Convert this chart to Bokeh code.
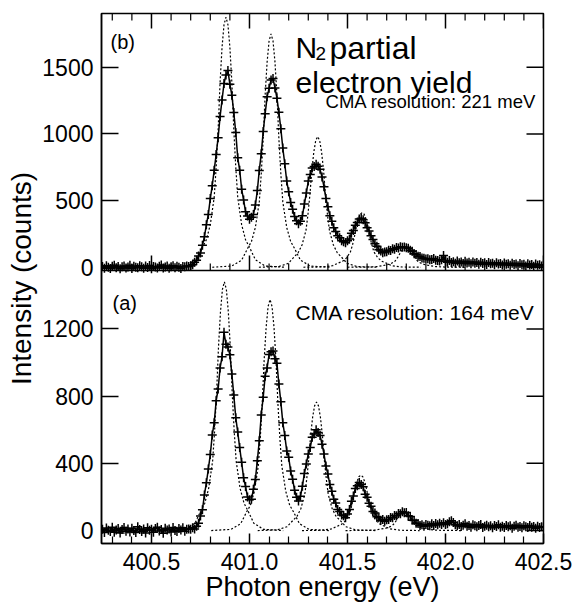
import numpy as np
from bokeh.plotting import figure
from bokeh.models import LinearAxis, FixedTicker, NumeralTickFormatter, Range1d, Label, Span
from bokeh.embed import file_html
from bokeh.resources import INLINE

FONT = "Liberation Sans"

# ---------------- shared x axis ----------------
x_limits = (400.245, 402.5)
x_major_ticks = [400.5, 401.0, 401.5, 402.0, 402.5]
x_minor_ticks = [400.3, 400.4, 400.6, 400.7, 400.8, 400.9, 401.1, 401.2, 401.3,
                 401.4, 401.6, 401.7, 401.8, 401.9, 402.1, 402.2, 402.3, 402.4]

# ---------------- panel (b): CMA resolution 221 meV (upper) ----------------
b_range = (-2072, 1903)      # counts scale spanning the whole frame
b_floor = -25                # lower edge of panel (b)
b_y_ticks = [0, 500, 1000, 1500]

b_base_start = 400.25
b_base = [5, -8, 12, 0, -10, 8, 15, -3, 6, -12,
          4, 10, -6, 2, 14, -9, 7, 0, -4, 11,
          3, -7, 9, -2, 13, -11, 5, 1, -5, 8,
          16, -6, 2, 10, -8, 4, 12, -3, 7, 0,
          -9, 6, 3, 9, 5]
b_peak_start = 400.70
b_peak = [12, 18, 38, 52, 84, 106, 165, 228, 318, 396,
          515, 612, 728, 846, 972, 1130, 1255, 1378, 1442, 1475,
          1372, 1290, 1160, 1010, 822, 728, 585, 505, 416, 384,
          360, 374, 396, 466, 575, 726, 852, 1018, 1152, 1278,
          1342, 1404, 1415, 1345, 1268, 1162, 1038, 894, 776, 646,
          566, 486, 434, 380, 348, 326, 344, 386, 474, 556,
          646, 696, 744, 756, 772, 758, 734, 676, 604, 516,
          454, 386, 344, 296, 268, 236, 222, 198, 192, 184,
          198, 212, 254, 276, 314, 336, 362, 368, 356, 334,
          296, 272, 236, 208, 176, 158, 132, 122, 108, 114,
          116, 128, 126, 138, 134, 148, 144, 154, 150, 152,
          146, 142, 128, 120, 102, 96, 82, 80, 70, 68,
          62, 64, 56, 58, 66, 52, 50, 46, 56, 88]
b_tail_start = 402.00
b_tail = [44, 38, 50, 36, 42, 30, 46, 34, 40, 28,
          44, 32, 38, 26, 40, 30, 36, 22, 38, 28,
          34, 20, 36, 26, 30, 18, 34, 24, 28, 16,
          32, 22, 26, 14, 30, 20, 24, 12, 28, 18,
          22, 10, 26, 16, 20, 8, 24, 14, 18, 10,
          16]

# component (dotted) curves: offsets from each line centre (eV)
comp_offsets = [-0.30, -0.20, -0.15, -0.12, -0.10, -0.08, -0.06, -0.05, -0.04, -0.03,
                -0.02, -0.01, 0.0, 0.01, 0.02, 0.03, 0.04, 0.05, 0.06, 0.08,
                0.10, 0.12, 0.15, 0.20, 0.30]
b_comp_centers = [400.880, 401.110, 401.348, 401.575, 401.800]
b_comp1 = [0, 9, 56, 150, 206, 319, 525, 750, 1031, 1388, 1650, 1819, 1875,
           1819, 1650, 1388, 1031, 750, 525, 319, 206, 150, 56, 9, 0]
b_comp2 = [0, 9, 53, 140, 193, 298, 490, 700, 963, 1295, 1540, 1698, 1750,
           1698, 1540, 1295, 963, 700, 490, 298, 193, 140, 53, 9, 0]
b_comp3 = [0, 5, 29, 78, 108, 167, 274, 392, 539, 725, 862, 951, 980,
           951, 862, 725, 539, 392, 274, 167, 108, 78, 29, 5, 0]
b_comp4 = [0, 2, 12, 33, 45, 70, 115, 164, 226, 303, 361, 398, 410,
           398, 361, 303, 226, 164, 115, 70, 45, 33, 12, 2, 0]
b_comp5 = [0, 1, 5, 12, 17, 26, 42, 60, 83, 111, 132, 146, 150,
           146, 132, 111, 83, 60, 42, 26, 17, 12, 5, 1, 0]

# ---------------- panel (a): CMA resolution 164 meV (lower) ----------------
a_range = (-77, 3077)        # counts scale spanning the whole frame
a_y_ticks = [0, 400, 800, 1200]

a_base_start = 400.25
a_base = [8, -12, 15, 2, -6, 20, -10, 4, 12, -15,
          6, 18, -4, 10, -8, 14, 0, -12, 22, 6,
          -6, 10, -14, 16, 2, 8, -10, 12, 20, -2,
          6, -16, 14, 4, 10, -8, 18, 0, -6, 12,
          4, 16, -4, 8, 10]
a_peak_start = 400.70
a_peak = [8, 16, 10, 26, 44, 86, 124, 212, 284, 366,
          452, 568, 642, 772, 842, 968, 1034, 1180, 1108, 1092,
          1046, 932, 806, 672, 586, 494, 406, 314, 262, 200,
          184, 186, 246, 304, 416, 534, 688, 794, 918, 968,
          1048, 1064, 1068, 1022, 996, 872, 766, 642, 566, 474,
          436, 354, 306, 240, 198, 176, 204, 264, 340, 396,
          456, 494, 556, 574, 600, 584, 566, 514, 456, 384,
          336, 274, 234, 186, 164, 126, 114, 92, 88, 76,
          98, 126, 174, 206, 250, 266, 286, 274, 260, 216,
          198, 162, 144, 114, 104, 82, 76, 62, 66, 56,
          64, 66, 78, 76, 90, 88, 102, 100, 112, 106,
          108, 88, 84, 62, 60, 44, 42, 30, 34, 26,
          36, 32, 28, 40, 30, 42, 34, 44, 36, 46]
a_tail_start = 402.00
a_tail = [36, 40, 52, 58, 48, 34, 28, 36, 24, 32,
          40, 26, 30, 20, 34, 28, 22, 30, 36, 18,
          26, 32, 22, 28, 16, 30, 24, 34, 20, 26,
          18, 30, 22, 28, 14, 26, 32, 20, 24, 16,
          28, 22, 18, 30, 20, 24, 14, 26, 18, 22,
          20]

a_comp_centers = [400.872, 401.105, 401.342, 401.568, 401.790]
a_comp1 = [0, 7, 44, 118, 163, 252, 414, 592, 814, 1095, 1302, 1436, 1480,
           1436, 1302, 1095, 814, 592, 414, 252, 163, 118, 44, 7, 0]
a_comp2 = [0, 7, 41, 110, 151, 234, 385, 550, 756, 1018, 1210, 1334, 1375,
           1334, 1210, 1018, 756, 550, 385, 234, 151, 110, 41, 7, 0]
a_comp3 = [0, 4, 23, 61, 84, 130, 214, 306, 421, 566, 673, 742, 765,
           742, 673, 566, 421, 306, 214, 130, 84, 61, 23, 4, 0]
a_comp4 = [0, 2, 10, 26, 36, 56, 92, 132, 182, 244, 290, 320, 330,
           320, 290, 244, 182, 132, 92, 56, 36, 26, 10, 2, 0]
a_comp5 = [0, 1, 3, 9, 12, 19, 31, 44, 61, 81, 97, 107, 110,
           107, 97, 81, 61, 44, 31, 19, 12, 9, 3, 1, 0]


def grid_of(start, vals):
    return np.round(start + 0.01 * np.arange(len(vals)), 3)


def to_a_units(t):
    """position of a panel-(b) value expressed on the panel-(a) scale (same frame)"""
    return round(a_range[0] + (t - b_range[0]) * (a_range[1] - a_range[0]) / (b_range[1] - b_range[0]), 3)


p = figure(width=577, height=607, x_range=Range1d(*x_limits), y_range=Range1d(*a_range),
           toolbar_location=None, output_backend="svg",
           min_border_left=101, min_border_right=34, min_border_top=13, min_border_bottom=64,
           x_axis_location=None, y_axis_location=None)
p.extra_y_ranges = {"top": Range1d(*b_range)}
p.grid.visible = False
p.outline_line_color = "black"
p.outline_line_width = 1.5
p.background_fill_color = "white"
p.border_fill_color = "white"

# ---- left axis: both panels' ticks, labelled with their own counts ----
left_ticks = a_y_ticks + [to_a_units(t) for t in b_y_ticks]
left_overrides = {to_a_units(t): str(t) for t in b_y_ticks}
left = LinearAxis(ticker=FixedTicker(ticks=left_ticks, minor_ticks=[]),
                  major_label_overrides=left_overrides)
left.axis_line_color = "black"
left.axis_line_width = 1.5
left.major_tick_line_color = "black"
left.major_tick_line_width = 1.5
left.major_tick_in = 17
left.major_tick_out = 0
left.minor_tick_in = 0
left.minor_tick_out = 0
left.major_label_text_font = FONT
left.major_label_text_font_size = "23px"
left.major_label_text_color = "black"
left.major_label_standoff = 8
left.axis_label = "Intensity (counts)"
left.axis_label_text_font = FONT
left.axis_label_text_font_size = "28px"
left.axis_label_text_font_style = "normal"
left.axis_label_text_color = "black"
left.axis_label_standoff = 2
p.add_layout(left, "left")

# ---- bottom axis ----
below = LinearAxis(ticker=FixedTicker(ticks=x_major_ticks, minor_ticks=x_minor_ticks),
                   formatter=NumeralTickFormatter(format="0.0"))
below.axis_line_color = "black"
below.axis_line_width = 1.5
below.major_tick_line_color = "black"
below.major_tick_line_width = 1.5
below.minor_tick_line_color = "black"
below.minor_tick_line_width = 1.2
below.major_tick_in = 10
below.major_tick_out = 0
below.minor_tick_in = 7
below.minor_tick_out = 0
below.major_label_text_font = FONT
below.major_label_text_font_size = "23px"
below.major_label_text_color = "black"
below.major_label_standoff = 9
below.axis_label = "Photon energy (eV)"
below.axis_label_text_font = FONT
below.axis_label_text_font_size = "27px"
below.axis_label_text_font_style = "normal"
below.axis_label_text_color = "black"
below.axis_label_standoff = -1
p.add_layout(below, "below")

# ---- boundary between the panels ----
p.add_layout(Span(location=b_floor, dimension="width", y_range_name="top",
                  line_color="black", line_width=1.5))

# ---- inward tick marks on the unlabelled sides ----
def tick_rays(xs, ys, length, angle, width, yname="default"):
    p.ray(x=xs, y=ys, length=length, angle=angle, angle_units="deg",
          length_units="screen", line_color="black", line_width=width, y_range_name=yname)

# top edge of panel (b)
tick_rays(x_major_ticks, [b_range[1]] * len(x_major_ticks), 15, -90, 1.5, "top")
tick_rays(x_minor_ticks, [b_range[1]] * len(x_minor_ticks), 7, -90, 1.2, "top")
# bottom edge of panel (b)
tick_rays(x_major_ticks, [b_floor] * len(x_major_ticks), 15, 90, 1.5, "top")
tick_rays(x_minor_ticks, [b_floor] * len(x_minor_ticks), 7, 90, 1.2, "top")
# right edge
tick_rays([x_limits[1]] * len(b_y_ticks), b_y_ticks, 17, 180, 1.5, "top")
tick_rays([x_limits[1]] * len(a_y_ticks), a_y_ticks, 17, 180, 1.5)

# ---- data ----
def draw_panel(segs, centers, comps, yname):
    for c, vals in zip(centers, comps):
        xs = [c + o for o in comp_offsets]
        p.line(xs, vals, line_color="black", line_dash="2 2", line_width=1.2, y_range_name=yname)
    xs_all = np.concatenate([grid_of(s, v) for s, v in segs])
    ys_all = np.concatenate([np.array(v, dtype=float) for s, v in segs])
    p.line(xs_all, ys_all, line_color="black", line_width=1.5, y_range_name=yname)
    p.scatter(xs_all, ys_all, marker="cross", size=9, line_color="black", line_width=1.5,
              y_range_name=yname)


draw_panel([(b_base_start, b_base), (b_peak_start, b_peak), (b_tail_start, b_tail)],
           b_comp_centers, [b_comp1, b_comp2, b_comp3, b_comp4, b_comp5], "top")
draw_panel([(a_base_start, a_base), (a_peak_start, a_peak), (a_tail_start, a_tail)],
           a_comp_centers, [a_comp1, a_comp2, a_comp3, a_comp4, a_comp5], "default")


# ---- in-panel texts ----
def add_text(x, y, text, size, yname="default"):
    p.add_layout(Label(x=x, y=y, text=text, text_font=FONT, text_font_size=size,
                       text_color="black", text_align="left", text_baseline="alphabetic",
                       y_range_name=yname))


add_text(400.291, 1693, "(b)", "20px", "top")
add_text(401.235, 1648, "N", "30px", "top")
add_text(401.337, 1603, "2", "19px", "top")
add_text(401.408, 1648, "partial", "32px", "top")
add_text(401.235, 1385, "electron yield", "30px", "top")
add_text(401.388, 1243, "CMA resolution: 221 meV", "18.5px", "top")

add_text(400.301, 1354, "(a)", "20px")
add_text(401.235, 1299, "CMA resolution: 164 meV", "21px")

open("out.html", "w").write(file_html(p, INLINE))
